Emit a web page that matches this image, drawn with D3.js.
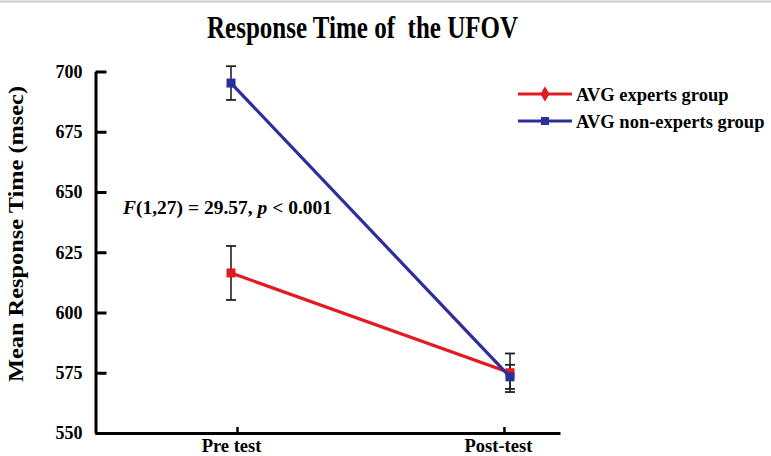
<!DOCTYPE html>
<html>
<head>
<meta charset="utf-8">
<script src="https://cdn.jsdelivr.net/npm/d3@7"></script>
<style>
  html, body { margin: 0; padding: 0; background: #fff; }
  svg { display: block; }
  text { font-family: "Liberation Serif", "Times New Roman", serif; font-weight: bold; fill: #000; }
</style>
</head>
<body>
<svg id="chart" width="771" height="456"></svg>
<script>
const categories = ["Pre test", "Post-test"];
const seriesNames = ["AVG experts group", "AVG non-experts group"];
const expertsMean = [616.4, 575.0];
const expertsErr = [11.2, 8.0];
const nonExpertsMean = [695.2, 573.3];
const nonExpertsErr = [7.0, 5.0];
const yTicks = [550, 575, 600, 625, 650, 675, 700];
const titleText = "Response Time of  the UFOV";
const yLabel = "Mean Response Time (msec)";

const colors = ["#e31a22", "#2b2e9c"];
const series = [
  { name: seriesNames[0], mean: expertsMean, err: expertsErr, color: colors[0], legendShape: "diamond" },
  { name: seriesNames[1], mean: nonExpertsMean, err: nonExpertsErr, color: colors[1], legendShape: "square" }
];

const svg = d3.select("#chart");

// top grey border line
svg.append("line").attr("x1", 0).attr("x2", 771).attr("y1", 1.5).attr("y2", 1.5)
  .attr("stroke", "#c9c9c9").attr("stroke-width", 2);

const y = d3.scaleLinear().domain([550, 700]).range([433, 71.5]);
const x = d3.scalePoint().domain(categories).range([231, 510]);
const xAxisScale = d3.scalePoint().domain(categories).range([95, 560]).padding(0.371).align(0.717);

// Title
svg.append("text").attr("x", 362.5).attr("y", 38).attr("text-anchor", "middle")
  .style("white-space", "pre")
  .attr("font-size", 32).attr("textLength", 311).attr("lengthAdjust", "spacingAndGlyphs")
  .text(titleText);

// Y axis
const yAxis = svg.append("g").attr("transform", "translate(95.5,0)")
  .call(d3.axisLeft(y).tickValues(yTicks).tickSize(-11).tickSizeOuter(0).tickPadding(13).tickFormat(d3.format("d")));
yAxis.select(".domain").attr("stroke", "#000").attr("stroke-width", 3);
yAxis.selectAll(".tick line").attr("stroke", "#000").attr("stroke-width", 3);
yAxis.selectAll(".tick text").attr("font-size", 18).attr("font-family", "Liberation Serif, serif").attr("font-weight", "bold").attr("fill", "#000");

// X axis
const xAxis = svg.append("g").attr("transform", "translate(0,433)")
  .call(d3.axisBottom(xAxisScale).tickSize(-6).tickSizeOuter(0));
xAxis.select(".domain").attr("stroke", "#000").attr("stroke-width", 3);
xAxis.selectAll(".tick line").attr("stroke", "#000").attr("stroke-width", 2.5);
xAxis.selectAll(".tick text").attr("font-size", 18.5).attr("font-family", "Liberation Serif, serif")
  .attr("font-weight", "bold").attr("fill", "#000").attr("dx", "-6").attr("y", 19).attr("dy", "0");

// Y label
svg.append("text").attr("transform", "translate(23,234) rotate(-90)")
  .attr("text-anchor", "middle").attr("font-size", 21)
  .attr("textLength", 296).attr("lengthAdjust", "spacingAndGlyphs")
  .text(yLabel);

// Error bars
const capW = 5;
series.forEach(s => {
  const g = svg.append("g");
  categories.forEach((c, i) => {
    const cx = x(c), top = y(s.mean[i] + s.err[i]), bot = y(s.mean[i] - s.err[i]);
    g.append("line").attr("x1", cx).attr("x2", cx).attr("y1", top).attr("y2", bot)
      .attr("stroke", "#222").attr("stroke-width", 1.6);
    [top, bot].forEach(yy => g.append("line").attr("x1", cx - capW).attr("x2", cx + capW)
      .attr("y1", yy).attr("y2", yy).attr("stroke", "#222").attr("stroke-width", 1.8));
  });
});

// Lines and markers
const line = d3.line().x((d, i) => x(categories[i])).y(d => y(d));
series.forEach(s => {
  svg.append("path").datum(s.mean).attr("d", line).attr("fill", "none")
    .attr("stroke", s.color).attr("stroke-width", 3.2);
  svg.selectAll(null).data(s.mean).enter().append("rect")
    .attr("x", (d, i) => x(categories[i]) - 4.5).attr("y", d => y(d) - 4.5)
    .attr("width", 9).attr("height", 9).attr("fill", s.color);
});

// Annotation
const ann = svg.append("text").attr("x", 123).attr("y", 214).attr("font-size", 18.5)
  .attr("textLength", 209).attr("lengthAdjust", "spacingAndGlyphs");
ann.append("tspan").attr("font-style", "italic").text("F");
ann.append("tspan").text("(1,27) = 29.57, ");
ann.append("tspan").attr("font-style", "italic").text("p");
ann.append("tspan").text(" < 0.001");

// Legend
const legendY = [94, 121];
series.forEach((s, i) => {
  const g = svg.append("g").attr("transform", `translate(0,${legendY[i]})`);
  g.append("line").attr("x1", 518).attr("x2", 572).attr("y1", 0).attr("y2", 0)
    .attr("stroke", s.color).attr("stroke-width", 3.2);
  if (s.legendShape === "diamond") {
    g.append("path").attr("d", d3.symbol(d3.symbolDiamond, 70)()).attr("transform", "translate(545,0)").attr("fill", s.color);
  } else {
    g.append("rect").attr("x", 541).attr("y", -4).attr("width", 8).attr("height", 8).attr("fill", s.color);
  }
  g.append("text").attr("x", 576).attr("y", 6.5).attr("font-size", 18.5).text(s.name);
});
</script>
</body>
</html>
